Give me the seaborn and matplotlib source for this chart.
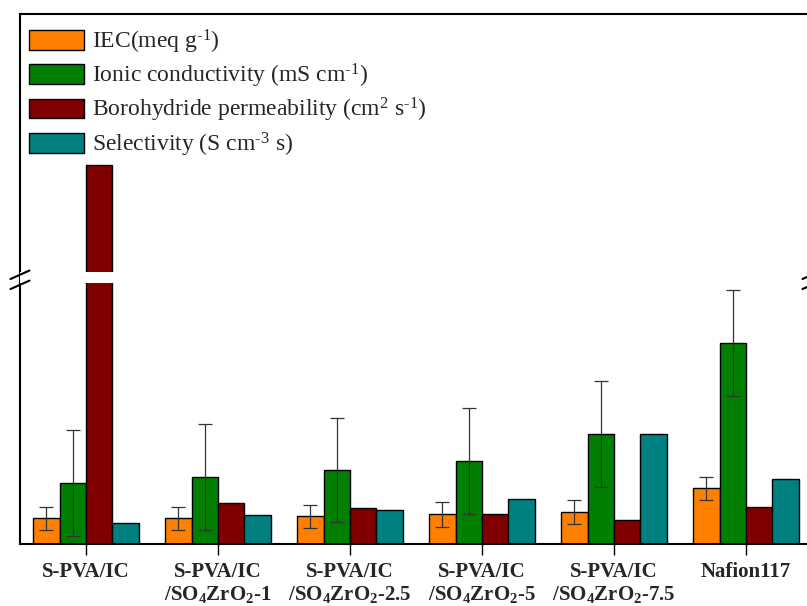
import matplotlib
matplotlib.use("Agg")
import matplotlib.pyplot as plt
import seaborn as sns
import pandas as pd
import numpy as np
from matplotlib.patches import Rectangle

sns.set_theme(style="white")
plt.rcParams['font.family'] = ['Liberation Serif', 'DejaVu Serif']
plt.rcParams['mathtext.fontset'] = 'custom'
plt.rcParams['mathtext.rm'] = 'Liberation Serif'
plt.rcParams['mathtext.it'] = 'Liberation Serif:italic'
plt.rcParams['mathtext.bf'] = 'Liberation Serif:bold'

# ---- data (relative heights) ----
membranes = ["S-PVA/IC", "S-PVA/IC\n/SO$_\\mathbf{4}$ZrO$_\\mathbf{2}$-1",
             "S-PVA/IC\n/SO$_\\mathbf{4}$ZrO$_\\mathbf{2}$-2.5",
             "S-PVA/IC\n/SO$_\\mathbf{4}$ZrO$_\\mathbf{2}$-5",
             "S-PVA/IC\n/SO$_\\mathbf{4}$ZrO$_\\mathbf{2}$-7.5", "Nafion117"]
series = ["IEC(meq g$^{\u2010\\mathrm{1}}$)", "Ionic conductivity (mS cm$^{\u2010\\mathrm{1}}$)",
          "Borohydride permeability (cm$^{2}$ s$^{\u2010\\mathrm{1}}$)",
          "Selectivity (S cm$^{\u2010\\mathrm{3}}$ s)"]
iec = [26, 26, 28, 30, 32, 56]
iec_err = [11.5, 11.5, 11.5, 12.5, 12, 11.5]
cond = [61, 67, 74, 83, 110, 201]
cond_err = [53, 53, 52, 53, 53, 53]
perm = [379, 41, 36, 30, 24, 37]
select = [21, 29, 34, 45, 110, 65]
colors = ["#FF8000", "#008000", "#800000", "#008080"]

df = pd.DataFrame({
    "membrane": membranes * 4,
    "series": [s for s in series for _ in membranes],
    "value": iec + cond + perm + select,
})

fig = plt.figure(figsize=(8.07, 6.06), dpi=100)
ax = fig.add_axes([20/807, 62/606, 792/807, 530/606])
sns.barplot(data=df, x="membrane", y="value", hue="series", palette=colors,
            order=membranes, hue_order=series, width=0.8, errorbar=None,
            edgecolor="black", linewidth=1, saturation=1, ax=ax)

# error bars
n = len(membranes)
pos = np.arange(n)
bw = 0.2
for k, (vals, errs) in enumerate([(iec, iec_err), (cond, cond_err)]):
    ax.errorbar(pos - 0.3 + k * bw, vals, yerr=errs, fmt="none", ecolor="#333333",
                elinewidth=0.9, capsize=5, capthick=0.9, zorder=5)

ax.set_ylim(0, 530)
ax.set_xlim(-0.5, 5.5)
ax.set_yticks([])
ax.set_xlabel("")
ax.set_ylabel("")
ax.set_xticks(pos)
ax.set_xticklabels(membranes, fontsize=15, fontweight="bold", linespacing=1.15)
ax.tick_params(axis="x", direction="out", length=8, width=1, color="black",
               bottom=True, pad=5)
for sp in ax.spines.values():
    sp.set_color("black")
    sp.set_linewidth(1.5)

# axis break: white gap across the tall bar
ax.add_patch(Rectangle((-0.5, 261), 6, 11, facecolor="white", edgecolor="none", zorder=4))
kw = dict(transform=ax.transAxes, color="black", lw=1.5, clip_on=False, zorder=6)
for yy in (0.489, 0.508):
    ax.plot([-0.012, 0.012], [yy - 0.008, yy + 0.008], **kw)
    ax.plot([0.988, 1.012], [yy - 0.008, yy + 0.008], **kw)

leg = ax.legend(loc="upper left", bbox_to_anchor=(-0.009, 1.006), frameon=False,
                fontsize=17, handlelength=2.3, handleheight=0.9,
                labelspacing=0.26, handletextpad=0.35, borderaxespad=0.3)
for p in leg.get_patches():
    p.set_edgecolor("black")
    p.set_linewidth(1)

fig.savefig("out.png", dpi=100)
